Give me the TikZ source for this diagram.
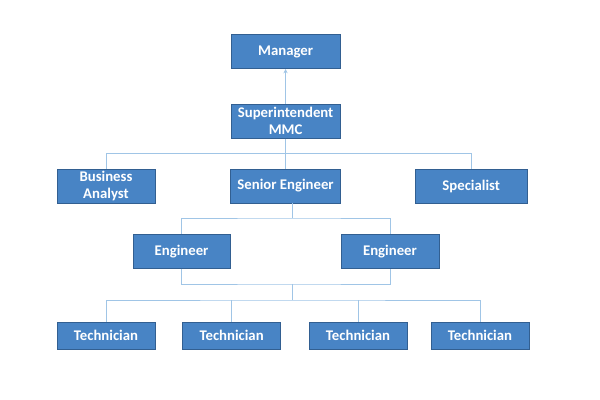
\documentclass[tikz,border=0pt]{standalone}
\usepackage{fontspec}
\setmainfont{Carlito}
\usetikzlibrary{arrows.meta}
\definecolor{boxfill}{RGB}{72,132,197}
\definecolor{boxline}{RGB}{50,95,145}
\definecolor{linkcol}{RGB}{160,197,230}
\tikzset{
  post/.style={draw=boxline, fill=boxfill, line width=0.6pt, text=white,
    font=\fontsize{10.5}{12}\selectfont\bfseries, align=center, inner sep=0pt,
    minimum height=0.85cm},
  tech/.style={post, minimum height=0.68cm, minimum width=2.45cm},
  link/.style={draw=linkcol, line width=0.7pt}
}
\begin{document}
\begin{tikzpicture}
\useasboundingbox (0,0) rectangle (15,-10);
% top
\node[post, minimum width=2.73cm] (mgr) at (7.14,-1.29) {Manager};
\node[post, minimum width=2.73cm] (sup) at (7.14,-3.03) {Superintendent\\MMC};
% second row
\node[post, minimum width=2.45cm] (ba) at (2.65,-4.65) {Business\\Analyst};
\node[post, minimum width=2.75cm] (senior) at (7.14,-4.65) {Senior Engineer};
\node[post, minimum width=2.8cm] (spec) at (11.78,-4.65) {Specialist};
% engineers
\node[post, minimum width=2.43cm] (engl) at (4.54,-6.28) {Engineer};
\node[post, minimum width=2.45cm] (engr) at (9.75,-6.28) {Engineer};
% technicians
\node[tech] (techa) at (2.65,-8.39) {Technician};
\node[tech] (techb) at (5.79,-8.39) {Technician};
\node[tech] (techc) at (8.95,-8.39) {Technician};
\node[tech] (techd) at (12.0,-8.39) {Technician};
% bus points
\coordinate (busa) at (7.14,-3.83);
\coordinate (busb) at (7.3,-5.45);
\coordinate (busc) at (7.3,-7.1);
\coordinate (busd) at (7.3,-7.5);
% connectors
\draw[link, -{Stealth[length=3pt,width=3pt]}] (sup) -- (mgr);
\draw[link] (sup) -- (senior);
\draw[link] (ba.north) |- (busa) -| (spec.north);
\draw[link] (senior.south -| busb) -- (busb);
\draw[link] (engl.north) |- (busb) -| (engr.north);
\draw[link] (engl.south) |- (busc) -| (engr.south);
\draw[link] (busc) -- (busd);
\draw[link] (techa.north) |- (busd) -| (techd.north);
\draw[link] (techb.north) -- (techb.north |- busd);
\draw[link] (techc.north) -- (techc.north |- busd);
\end{tikzpicture}
\end{document}
